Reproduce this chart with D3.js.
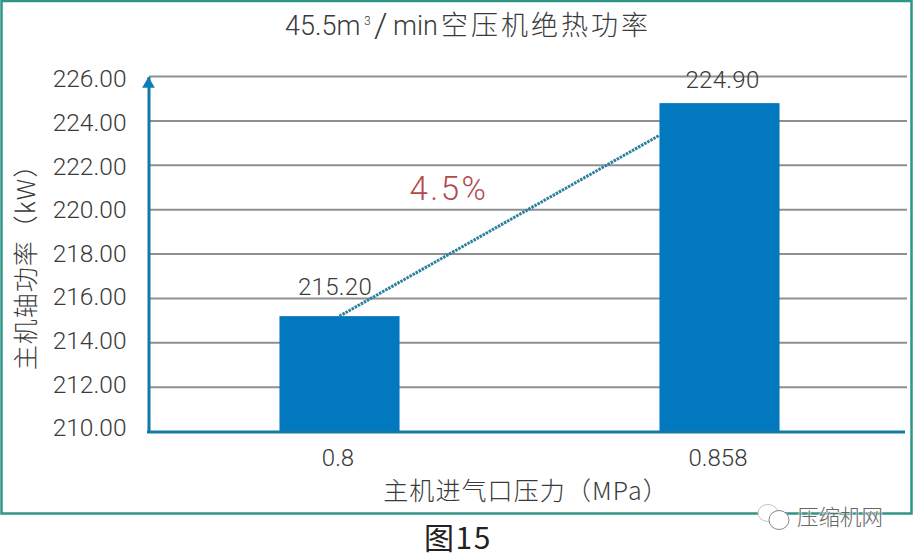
<!DOCTYPE html>
<html>
<head>
<meta charset="utf-8">
<script src="https://cdn.jsdelivr.net/npm/d3@7"></script>
<style>
  html, body { margin: 0; padding: 0; background: #fff; }
  svg { display: block; }
  text { font-family: Roboto, "Noto Sans CJK SC", sans-serif; font-weight: 300; fill: #3a3a3a; }
  .cjk { font-family: "Noto Sans CJK SC", sans-serif; }
</style>
</head>
<body>
<div id="chart"></div>
<script>
const pressures = ['0.8', '0.858'];
// the printed labels; the second bar is drawn slightly short of its label in the picture
const powerLabels = ['215.20', '224.90'];
const barHeights = [215.2, 224.8];
const yTicks = [210, 212, 214, 216, 218, 220, 222, 224, 226];
// dotted connector between the bars, the second end stops at the bar edge
const trendValues = [215.2, 223.35];
const trendLabel = '4.5%';

const width = 914, height = 557;

const svg = d3.select('#chart')
  .append('svg')
  .attr('width', width)
  .attr('height', height);

//outer frame
svg.append('rect')
  .attr('x', 1.5).attr('y', 1)
  .attr('width', 910).attr('height', 512.5)
  .attr('fill', 'none')
  .attr('stroke', '#2f9586')
  .attr('stroke-width', 2.5);

const xScale = d3.scaleBand()
  .domain(pressures)
  .range([149.5, 909.5])
  .paddingInner(0.684)
  .paddingOuter(0.342);

const yScale = d3.scaleLinear()
  .domain([210, 226])
  .range([431.5, 76.5]);

// tick labels sit a little tighter than the grid lines
const labelY = d3.scaleLinear()
  .domain([210, 226])
  .range([427, 78]);

//grid lines
svg.append('g')
  .selectAll('line')
  .data(yTicks.slice(1))
  .join('line')
  .attr('x1', 149)
  .attr('x2', 907)
  .attr('y1', d => yScale(d))
  .attr('y2', d => yScale(d))
  .attr('stroke', '#8f8f8f')
  .attr('stroke-width', 2);

//bars
svg.append('g')
  .selectAll('rect')
  .data(barHeights)
  .join('rect')
  .attr('x', (d, i) => xScale(pressures[i]))
  .attr('width', xScale.bandwidth())
  .attr('y', d => yScale(d))
  .attr('height', d => yScale(210) - yScale(d))
  .attr('fill', '#0279bf');

//value labels
svg.append('g')
  .selectAll('text')
  .data(powerLabels)
  .join('text')
  .attr('x', (d, i) => xScale(pressures[i]) + xScale.bandwidth() / 2 + (i ? 3 : -4.5))
  .attr('y', (d, i) => yScale(barHeights[i]) - (i ? 15 : 21))
  .attr('text-anchor', 'middle')
  .attr('font-size', 24)
  .attr('letter-spacing', 0.3)
  .text(d => d);

//dotted trend line
svg.append('line')
  .attr('x1', xScale(pressures[0]) + xScale.bandwidth() / 2)
  .attr('y1', yScale(trendValues[0]))
  .attr('x2', xScale(pressures[1]))
  .attr('y2', yScale(trendValues[1]))
  .attr('stroke', '#2a7f9f')
  .attr('stroke-width', 3)
  .attr('stroke-dasharray', '2.5 1');

svg.append('text')
  .attr('x', 449)
  .attr('y', 200)
  .attr('text-anchor', 'middle')
  .attr('font-size', 33)
  .attr('letter-spacing', 2.5)
  .style('fill', '#b5484c')
  .text(trendLabel);

//y axis
const yAxis = svg.append('g')
  .attr('transform', 'translate(148.5,0)')
  .call(d3.axisLeft(yScale).tickValues(yTicks).tickSize(0).tickPadding(22).tickFormat(d => d.toFixed(2)));
yAxis.select('.domain')
  .attr('stroke', '#137aa8')
  .attr('stroke-width', 3);
yAxis.selectAll('text')
  .attr('font-size', 24.5)
  .attr('y', d => labelY(d) - yScale(d))
  .attr('dy', '0.36em');

//arrow head on the y axis
svg.append('path')
  .attr('d', d3.symbol(d3.symbolTriangle, 70)())
  .attr('transform', 'translate(148.5,84)')
  .attr('fill', '#0f7dbb');

//x axis
const xAxis = svg.append('g')
  .attr('transform', 'translate(0,432)')
  .call(d3.axisBottom(xScale).tickSize(0).tickPadding(17));
xAxis.select('.domain')
  .attr('stroke', '#137aa8')
  .attr('stroke-width', 3)
  .attr('d', 'M147,0H905');
xAxis.selectAll('text')
  .attr('font-size', 24)
  .attr('x', -1.5);

//chart title
const title = svg.append('text')
  .attr('y', 35)
  .attr('font-size', 27);
title.append('tspan').attr('x', 285).text('45.5m');
title.append('tspan').attr('x', 364).attr('y', 25).attr('font-size', 12).text('3');
title.append('tspan').attr('x', 374).attr('y', 37).attr('font-size', 34).text('/');
title.append('tspan').attr('x', 393).attr('y', 35).text('min');
title.append('tspan').attr('x', 441).attr('class', 'cjk').attr('letter-spacing', 3).text('空压机绝热功率');

//axis titles
svg.append('text')
  .attr('transform', 'translate(35,261) rotate(-90)')
  .attr('text-anchor', 'middle')
  .attr('class', 'cjk')
  .attr('font-size', 25)
  .attr('letter-spacing', 1)
  .text('主机轴功率（kW）');

svg.append('text')
  .attr('x', 526)
  .attr('y', 500)
  .attr('text-anchor', 'middle')
  .attr('class', 'cjk')
  .attr('font-size', 25)
  .attr('letter-spacing', 1.1)
  .text('主机进气口压力（MPa）');

//figure caption
svg.append('text')
  .attr('x', 458)
  .attr('y', 549)
  .attr('text-anchor', 'middle')
  .attr('class', 'cjk')
  .attr('font-size', 30)
  .attr('letter-spacing', 1.5)
  .style('font-weight', 400)
  .style('fill', '#222')
  .text('图15');

//watermark
svg.append('ellipse')
  .attr('cx', 768).attr('cy', 513).attr('rx', 10).attr('ry', 8.5)
  .attr('fill', '#fff').attr('stroke', '#c4c4c4');
svg.append('ellipse')
  .attr('cx', 779).attr('cy', 520).attr('rx', 10).attr('ry', 9.5)
  .attr('fill', '#fff').attr('stroke', '#888');
svg.append('text')
  .attr('x', 797)
  .attr('y', 525)
  .attr('class', 'cjk')
  .attr('font-size', 21.5)
  .style('fill', '#666')
  .style('stroke', '#fff')
  .style('stroke-width', 2)
  .style('stroke-opacity', 0.6)
  .style('paint-order', 'stroke')
  .text('压缩机网');
</script>
</body>
</html>
